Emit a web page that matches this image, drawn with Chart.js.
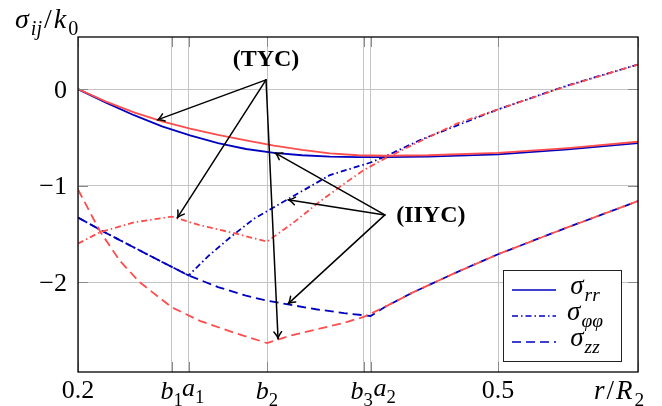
<!DOCTYPE html>
<html>
<head>
<meta charset="utf-8">
<script src="https://cdn.jsdelivr.net/npm/chart.js@4.4.1/dist/chart.umd.min.js"></script>
<style>
  html, body { margin: 0; padding: 0; background: #fff; }
  #wrap { width: 662px; height: 406px; }
</style>
</head>
<body>
<div id="wrap"><canvas id="stressChart" width="662" height="406"></canvas></div>
<script>
    // radii of the zone boundaries
    const b1 = 0.267, a1 = 0.279, b2 = 0.335, b3 = 0.404, a2 = 0.409;
    const xTicks = [0.2, b1, a1, b2, b3, a2, 0.5, 0.6];
    const xTickLabels = [["0.2", ""], ["b", "1"], ["a", "1"], ["b", "2"], ["b", "3"], ["a", "2"], ["0.5", ""], ["", ""]];
    const yTicks = [0, -1, -2];
    const yTickLabels = ["0", "\u22121", "\u22122"];

    // TYC (red)
    const tycRrX = [0.2, 0.22, 0.24, 0.26, 0.28, 0.30, 0.32, 0.34, 0.36, 0.38, 0.40, 0.42, 0.45, 0.50, 0.55, 0.60];
    const tycRrY = [0, -0.13, -0.24, -0.335, -0.41, -0.475, -0.53, -0.585, -0.63, -0.665, -0.685, -0.69, -0.685, -0.66, -0.61, -0.545];
    const tycPpX = [0.2, 0.216, 0.24, 0.267, 0.287, 0.311, 0.335, 0.355, 0.374, 0.394, 0.404, 0.419, 0.44, 0.471, 0.5, 0.55, 0.6];
    const tycPpY = [-1.60, -1.48, -1.38, -1.32, -1.41, -1.49, -1.58, -1.37, -1.15, -0.94, -0.84, -0.72, -0.57, -0.355, -0.21, 0.035, 0.255];
    const tycZzX = [0.2, 0.216, 0.23, 0.244, 0.267, 0.287, 0.311, 0.335, 0.35, 0.37, 0.39, 0.404, 0.42, 0.44, 0.47, 0.5, 0.55, 0.6];
    const tycZzY = [-1.04, -1.48, -1.78, -2.0, -2.26, -2.40, -2.52, -2.63, -2.56, -2.49, -2.42, -2.36, -2.25, -2.10, -1.90, -1.71, -1.43, -1.16];

    // IIYC (blue)
    const iiycRrX = [0.2, 0.22, 0.24, 0.26, 0.28, 0.30, 0.32, 0.34, 0.36, 0.38, 0.40, 0.42, 0.45, 0.50, 0.55, 0.60];
    const iiycRrY = [0, -0.14, -0.27, -0.385, -0.48, -0.56, -0.62, -0.66, -0.685, -0.70, -0.705, -0.705, -0.70, -0.675, -0.625, -0.56];
    const iiycPpX = [0.2, 0.22, 0.24, 0.26, 0.279, 0.293, 0.31, 0.326, 0.35, 0.38, 0.409, 0.419, 0.444, 0.47, 0.5, 0.55, 0.6];
    const iiycPpY = [-1.33, -1.49, -1.64, -1.79, -1.93, -1.73, -1.52, -1.34, -1.14, -0.89, -0.76, -0.70, -0.53, -0.38, -0.21, 0.04, 0.255];
    const iiycZzX = [0.2, 0.22, 0.24, 0.26, 0.279, 0.30, 0.32, 0.335, 0.35, 0.37, 0.39, 0.409, 0.42, 0.44, 0.47, 0.5, 0.55, 0.6];
    const iiycZzY = [-1.33, -1.49, -1.64, -1.79, -1.93, -2.05, -2.14, -2.19, -2.23, -2.28, -2.32, -2.35, -2.25, -2.10, -1.90, -1.71, -1.43, -1.16];

    // annotation anchors (data coords)
    const tycLabel = [0.3343, 0.314];
    const tycApex = [0.3343, 0.096];
    const tycTips = [[0.2566, -0.318], [0.2709, -1.334], [0.3429, -2.587]];
    const iiycLabel = [0.452, -1.30];
    const iiycApex = [0.4192, -1.303];
    const iiycTips = [[0.3407, -0.66], [0.35, -1.147], [0.35, -2.224]];

    const BLUE = "#0000c0";
    const RED = "#ff4d4d";
    const DASHED = [9, 5];
    const DASHDOT = [6, 3, 1.5, 3];
    const FONT = '"Liberation Serif", "DejaVu Serif", serif';

    const pts = (xs, ys) => xs.map((x, i) => ({ x: x, y: ys[i] }));
    const series = (xs, ys, color, dash) => ({
      data: pts(xs, ys),
      borderColor: color,
      borderWidth: 1.8,
      borderDash: dash,
      pointRadius: 0,
      fill: false,
      tension: 0,
    });

    // draw a run of text pieces: [text, style]; style i / r / b / si / sr
    function rich(ctx, parts, x, y, align, size, gap) {
      gap = gap || 0;
      const fontOf = s => {
        const sub = s[0] === "s";
        const st = sub ? s.slice(1) : s;
        const px = sub ? size * 0.72 : size;
        const pre = st === "i" ? "italic " : st === "b" ? "bold " : "";
        return pre + px + "px " + FONT;
      };
      let w = 0;
      parts.forEach((p, i) => { ctx.font = fontOf(p[1]); w += ctx.measureText(p[0]).width + (i ? gap : 0); });
      let cx = align === "center" ? x - w / 2 : align === "right" ? x - w : x;
      ctx.textAlign = "left";
      ctx.textBaseline = "alphabetic";
      parts.forEach((p, i) => {
        ctx.font = fontOf(p[1]);
        if (i) cx += gap;
        const dy = p[1][0] === "s" ? size * 0.25 : 0;
        ctx.fillText(p[0], cx, y + dy);
        cx += ctx.measureText(p[0]).width;
      });
    }

    function arrow(ctx, x0, y0, x1, y1) {
      ctx.beginPath();
      ctx.moveTo(x0, y0);
      ctx.lineTo(x1, y1);
      ctx.stroke();
      const ang = Math.atan2(y1 - y0, x1 - x0);
      const len = 8;
      ctx.beginPath();
      ctx.moveTo(x1 - len * Math.cos(ang - 0.5), y1 - len * Math.sin(ang - 0.5));
      ctx.quadraticCurveTo(x1 - 2 * Math.cos(ang), y1 - 2 * Math.sin(ang), x1, y1);
      ctx.quadraticCurveTo(x1 - 2 * Math.cos(ang), y1 - 2 * Math.sin(ang), x1 - len * Math.cos(ang + 0.5), y1 - len * Math.sin(ang + 0.5));
      ctx.stroke();
    }

    // label nudges as in the original (a-labels sit right of their tick)
    const labelShift = [0, 0, 4.5, 0, -2, 14, 0, 0];

    const decorations = {
      id: "decorations",
      afterDraw(chart) {
        const ctx = chart.ctx;
        const { left, right, top, bottom } = chart.chartArea;
        const xs = chart.scales.x, ys = chart.scales.y;
        const P = d => [xs.getPixelForValue(d[0]), ys.getPixelForValue(d[1])];
        ctx.save();

        // inner tick marks
        ctx.strokeStyle = "#8a8a8a";
        ctx.lineWidth = 1;
        ctx.beginPath();
        xTicks.forEach(v => {
          const px = Math.round(xs.getPixelForValue(v)) + 0.5;
          ctx.moveTo(px, top); ctx.lineTo(px, top + 10);
          ctx.moveTo(px, bottom); ctx.lineTo(px, bottom - 10);
        });
        yTicks.forEach(v => {
          const py = Math.round(ys.getPixelForValue(v)) + 0.5;
          ctx.moveTo(left, py); ctx.lineTo(left + 10, py);
          ctx.moveTo(right, py); ctx.lineTo(right - 10, py);
        });
        ctx.stroke();

        // axis box
        ctx.strokeStyle = "#000";
        ctx.lineWidth = 1.3;
        ctx.strokeRect(left, top, right - left, bottom - top);

        // tick labels
        ctx.fillStyle = "#000";
        xTicks.forEach((v, i) => {
          const lab = xTickLabels[i];
          if (!lab[0]) return;
          const px = xs.getPixelForValue(v) + labelShift[i];
          const isNum = /[0-9]/.test(lab[0]);
          const base = lab[0] === "a" ? bottom + 24 : isNum ? bottom + 26 : bottom + 27;
          const parts = isNum ? [[lab[0], "r"]] : [[lab[0], "i"], [lab[1], "sr"]];
          rich(ctx, parts, px, base, "center", 26);
        });
        yTicks.forEach((v, i) => {
          const py = ys.getPixelForValue(v);
          rich(ctx, [[yTickLabels[i], "r"]], left - 11, py + 8.5, "right", 26);
        });

        // axis labels
        rich(ctx, [["\u03c3", "i"], ["ij", "si"], ["/", "r"], ["k", "i"], ["0", "sr"]], 15, 28, "left", 28, 2);
        rich(ctx, [["r", "i"], ["/", "r"], ["R", "i"], ["2", "sr"]], 594, bottom + 27, "left", 27, 2);

        // annotations
        ctx.strokeStyle = "#000";
        ctx.lineWidth = 1.5;
        ctx.lineCap = "round";
        [[tycApex, tycTips], [iiycApex, iiycTips]].forEach(([apex, tips]) => {
          const a = P(apex);
          tips.forEach(t => { const b = P(t); arrow(ctx, a[0], a[1], b[0], b[1]); });
        });
        let t = P(tycLabel);
        rich(ctx, [["(TYC)", "b"]], t[0], t[1] + 7, "center", 24);
        t = P(iiycLabel);
        rich(ctx, [["(IIYC)", "b"]], t[0], t[1] + 7, "center", 24);

        // legend
        const lx0 = right - 135, lx1 = right - 17, ly0 = bottom - 102, ly1 = bottom - 11;
        ctx.fillStyle = "#fff";
        ctx.fillRect(lx0, ly0, lx1 - lx0, ly1 - ly0);
        ctx.strokeStyle = "#222";
        ctx.lineWidth = 1;
        ctx.lineCap = "butt";
        ctx.strokeRect(lx0 + 0.5, ly0 + 0.5, lx1 - lx0, ly1 - ly0);
        const entries = [
          [[], [["\u03c3", "i"], ["rr", "si"]]],
          [DASHDOT, [["\u03c3", "i"], ["\u03c6\u03c6", "si"]]],
          [DASHED, [["\u03c3", "i"], ["zz", "si"]]],
        ];
        ctx.fillStyle = "#000";
        entries.forEach((e, i) => {
          const yy = ly0 + 20 + i * 26;
          ctx.strokeStyle = BLUE;
          ctx.lineWidth = 1.6;
          ctx.setLineDash(e[0]);
          ctx.beginPath();
          ctx.moveTo(lx0 + 9, yy); ctx.lineTo(lx0 + 53, yy);
          ctx.stroke();
          ctx.setLineDash([]);
          rich(ctx, e[1], lx0 + 82, yy + 4, "center", 27, 1);
        });
        ctx.restore();
      },
    };

    const gridOpts = { color: "#c4c4c4", lineWidth: 1, drawTicks: false };

    new Chart(document.getElementById("stressChart"), {
      type: "line",
      data: {
        datasets: [
          series(tycRrX, tycRrY, RED, []),
          series(tycPpX, tycPpY, RED, DASHDOT),
          series(tycZzX, tycZzY, RED, DASHED),
          series(iiycRrX, iiycRrY, BLUE, []),
          series(iiycPpX, iiycPpY, BLUE, DASHDOT),
          series(iiycZzX, iiycZzY, BLUE, DASHED),
        ],
      },
      options: {
        responsive: false,
        animation: false,
        layout: { padding: { top: 37, right: 24, left: 0, bottom: 0 } },
        plugins: { legend: { display: false }, tooltip: { enabled: false } },
        scales: {
          x: {
            type: "linear",
            min: 0.2,
            max: 0.6,
            grid: gridOpts,
            border: { display: false },
            ticks: { display: false },
            afterBuildTicks: s => { s.ticks = xTicks.map(v => ({ value: v })); },
            afterFit: s => { s.height = 34; },
          },
          y: {
            min: -2.93,
            max: 0.54,
            grid: gridOpts,
            border: { display: false },
            ticks: { display: false },
            afterBuildTicks: s => { s.ticks = yTicks.map(v => ({ value: v })); },
            afterFit: s => { s.width = 78; },
          },
        },
      },
      plugins: [decorations],
    });
</script>
</body>
</html>
